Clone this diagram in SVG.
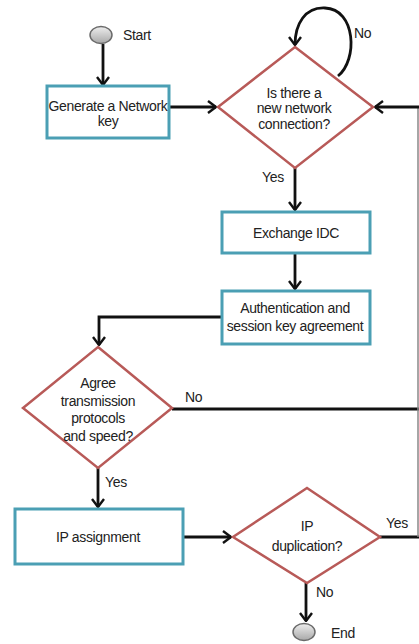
<svg xmlns="http://www.w3.org/2000/svg" width="419" height="644" viewBox="0 0 419 644">
<defs>
<style>
.box{fill:#fff;stroke:#4b9fb4;stroke-width:3}
.dia{fill:#fff;stroke:#b85a58;stroke-width:2.5}
.term{fill:url(#g);stroke:#6a6a6a;stroke-width:1.5}
.t{font-family:"Liberation Sans",Arial,sans-serif;font-size:14px;fill:#222;text-anchor:middle;letter-spacing:-0.35px}
.l{font-family:"Liberation Sans",Arial,sans-serif;font-size:14px;fill:#222;letter-spacing:-0.35px}
.c{fill:none;stroke:#111;stroke-width:2.8}
.a{marker-end:url(#ah)}
</style>
<linearGradient id="g" x1="0" y1="0" x2="0" y2="1">
<stop offset="0" stop-color="#eeeeee"/>
<stop offset="1" stop-color="#a8a8a8"/>
</linearGradient>
<marker id="ah" viewBox="0 0 10 14" refX="9" refY="7" markerWidth="10" markerHeight="14" markerUnits="userSpaceOnUse" orient="auto">
<path d="M1,1 L9,7 L1,13" fill="none" stroke="#111" stroke-width="2.4"/>
</marker>
</defs>
<rect width="419" height="644" fill="#fff"/>
<g id="connectors">
<path class="c a" d="M103,44 L103,85"/>
<path class="c a" d="M170,107 L216,107"/>
<path class="c a" d="M338,76 C358,60 356,9 325,8 C305,7 295,24 295,45" stroke-width="2.2"/>
<path class="c a" d="M295,168 L295,210"/>
<path class="c a" d="M295,254 L295,289"/>
<path class="c a" d="M222,317 L99,317 L99,345"/>
<path class="c a" d="M98,468 L98,507"/>
<path class="c a" d="M183,537 L231,537"/>
<path class="c a" d="M306,583 L306,621"/>
<path class="c" d="M172,409 L419,409"/>
<path class="c" d="M380,537 L419,537"/>
<path d="M418,537 L418,107" fill="none" stroke="#888" stroke-width="1.5"/>
<path class="c a" d="M419,107 L375,107" stroke-width="3.2"/>
<text class="l" x="354" y="38">No</text>
<text class="l" x="262" y="182">Yes</text>
<text class="l" x="185" y="402">No</text>
<text class="l" x="105" y="487">Yes</text>
<text class="l" x="386" y="528">Yes</text>
<text class="l" x="316" y="597">No</text>
</g>
<g id="start">
<ellipse class="term" cx="101" cy="35" rx="11" ry="8.5"/>
<text class="l" x="123" y="40">Start</text>
</g>
<g id="generate">
<rect class="box" x="47" y="86" width="122" height="52"/>
<text class="t" x="108" y="111">Generate a Network</text>
<text class="t" x="108" y="126">key</text>
</g>
<g id="newconn">
<polygon class="dia" points="295,47 373,107 295,168 218,107"/>
<text class="t" x="294" y="98">Is there a</text>
<text class="t" x="294" y="113">new network</text>
<text class="t" x="294" y="129">connection?</text>
</g>
<g id="exchange">
<rect class="box" x="222" y="212" width="148" height="41"/>
<text class="t" x="296" y="238">Exchange IDC</text>
</g>
<g id="auth">
<rect class="box" x="222" y="291" width="148" height="53"/>
<text class="t" x="295" y="313">Authentication and</text>
<text class="t" x="295" y="331">session key agreement</text>
</g>
<g id="agree">
<polygon class="dia" points="98,347 172,408 98,468 23,408"/>
<text class="t" x="98" y="388">Agree</text>
<text class="t" x="98" y="406">transmission</text>
<text class="t" x="98" y="423">protocols</text>
<text class="t" x="98" y="441">and speed?</text>
</g>
<g id="ipassign">
<rect class="box" x="15" y="509" width="168" height="55"/>
<text class="t" x="98" y="542">IP assignment</text>
</g>
<g id="ipdup">
<polygon class="dia" points="307,488 380,537 307,583 233,537"/>
<text class="t" x="307" y="531">IP</text>
<text class="t" x="307" y="551">duplication?</text>
</g>
<g id="end">
<ellipse class="term" cx="304" cy="632" rx="11" ry="8.5"/>
<text class="l" x="331" y="638">End</text>
</g>
</svg>
